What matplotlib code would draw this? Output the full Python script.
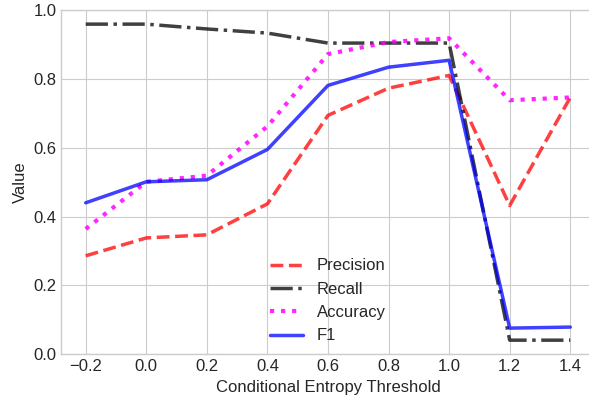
import numpy as np
import matplotlib
matplotlib.use('Agg')
import matplotlib.pyplot as plt

plt.style.use('seaborn-v0_8-whitegrid')
plt.rcParams['font.family'] = ['Liberation Sans', 'DejaVu Sans']

thresholds = [-0.2, 0.0, 0.2, 0.4, 0.6, 0.8, 1.0, 1.2, 1.4]
precision = [0.286, 0.338, 0.347, 0.437, 0.694, 0.773, 0.810, 0.432, 0.746]
recall = [0.959, 0.959, 0.945, 0.933, 0.904, 0.904, 0.904, 0.041, 0.041]
accuracy = [0.364, 0.501, 0.519, 0.662, 0.872, 0.907, 0.918, 0.738, 0.746]
f1 = [0.440, 0.501, 0.507, 0.595, 0.781, 0.834, 0.854, 0.076, 0.079]

fig, ax = plt.subplots(figsize=(5.89, 4.01), dpi=100)

ax.plot(thresholds, precision, '--', color='red', lw=2.5, alpha=0.75, label='Precision')
ax.plot(thresholds, recall, '-.', color='black', lw=2.5, alpha=0.75, label='Recall')
ax.plot(thresholds, accuracy, ':', color='magenta', lw=3, alpha=0.85, label='Accuracy')
ax.plot(thresholds, f1, '-', color='blue', lw=2.5, alpha=0.75, label='F1')

ax.set_ylim(0, 1.0)
ax.set_xticks(thresholds)
ax.tick_params(labelsize=12)
ax.set_xlabel('Conditional Entropy Threshold', fontsize=12)
ax.set_ylabel('Value', fontsize=12)
ax.legend(loc='lower center', bbox_to_anchor=(0.5, -0.012), fontsize=12, frameon=False)

fig.subplots_adjust(left=0.1044, right=1.0093, top=0.975, bottom=0.1165)
plt.savefig('out.png', dpi=100)
